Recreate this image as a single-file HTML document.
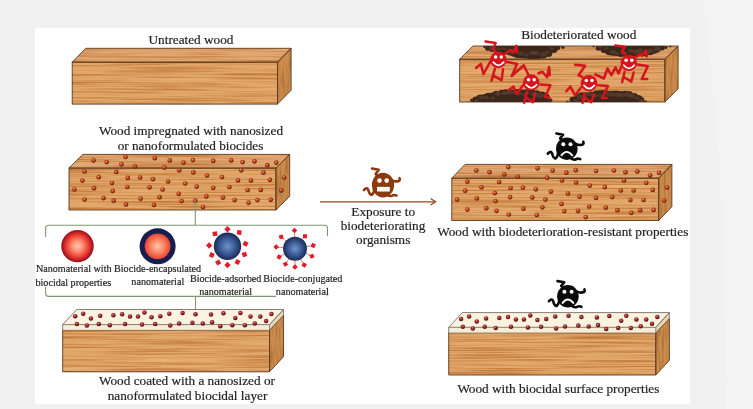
<!DOCTYPE html>
<html lang="en"><head><meta charset="utf-8"><title>Nanobiocides for wood protection</title>
<style>
html,body{margin:0;padding:0;background:#f1f1f1}
body{width:753px;height:409px;overflow:hidden}
svg{display:block}
text{opacity:0.99;stroke:#1d1d1d;stroke-width:0.2px;paint-order:stroke}
text{font-family:"Liberation Serif","Times New Roman",serif;fill:#1d1d1d}
.t{font-size:13.25px}
.s{font-size:10.15px}
</style></head><body>
<svg width="753" height="409" viewBox="0 0 753 409">
<defs>
<filter id="grainH" x="0" y="0" width="100%" height="100%" color-interpolation-filters="sRGB">
<feTurbulence type="fractalNoise" baseFrequency="0.009 0.62" numOctaves="3" seed="4" result="n"/>
<feColorMatrix in="n" type="matrix" values="0 0 0 0 0  0 0 0 0 0  0 0 0 0 0  2.2 0 0 0 -0.92" result="a"/>
<feFlood flood-color="#b96f30"/>
<feComposite operator="in" in2="a" result="g"/>
<feColorMatrix in="n" type="matrix" values="0 0 0 0 0  0 0 0 0 0  0 0 0 0 0  0 -2.0 0 0 0.85" result="b"/>
<feFlood flood-color="#f2c084"/>
<feComposite operator="in" in2="b" result="l"/>
<feMerge result="m"><feMergeNode in="l"/><feMergeNode in="g"/></feMerge>
<feComposite operator="in" in="m" in2="SourceGraphic" result="mm"/>
<feMerge><feMergeNode in="SourceGraphic"/><feMergeNode in="mm"/></feMerge>
</filter>
<filter id="grainV" x="0" y="0" width="100%" height="100%" color-interpolation-filters="sRGB">
<feTurbulence type="fractalNoise" baseFrequency="0.45 0.04" numOctaves="2" seed="9" result="n"/>
<feColorMatrix in="n" type="matrix" values="0 0 0 0 0  0 0 0 0 0  0 0 0 0 0  2.0 0 0 0 -0.85" result="a"/>
<feFlood flood-color="#a5642c"/>
<feComposite operator="in" in2="a" result="g"/>
<feComposite operator="in" in="g" in2="SourceGraphic" result="gg"/>
<feMerge><feMergeNode in="SourceGraphic"/><feMergeNode in="gg"/></feMerge>
</filter>
<filter id="soft" x="-5%" y="-20%" width="110%" height="140%"><feGaussianBlur stdDeviation="0.45"/></filter>
<filter id="rot" x="-20%" y="-60%" width="140%" height="220%">
<feTurbulence type="fractalNoise" baseFrequency="0.16" numOctaves="2" seed="3" result="n"/>
<feDisplacementMap in="SourceGraphic" in2="n" scale="5" xChannelSelector="R" yChannelSelector="G"/>
<feGaussianBlur stdDeviation="0.6"/>
</filter>
<radialGradient id="gRed" cx="0.5" cy="0.5" r="0.5"><stop offset="0" stop-color="#ffc6ae"/><stop offset="0.3" stop-color="#ff967c"/><stop offset="0.6" stop-color="#f2503e"/><stop offset="0.82" stop-color="#d0242a"/><stop offset="1" stop-color="#8a0c12"/></radialGradient>
<radialGradient id="gRedIn" cx="0.5" cy="0.5" r="0.5"><stop offset="0" stop-color="#ffc8ac"/><stop offset="0.45" stop-color="#fd8e6e"/><stop offset="1" stop-color="#e8432d"/></radialGradient>
<radialGradient id="gBlue" cx="0.5" cy="0.5" r="0.5"><stop offset="0" stop-color="#6f93c8"/><stop offset="0.55" stop-color="#3b5c98"/><stop offset="1" stop-color="#182a55"/></radialGradient>
<radialGradient id="gDot" cx="0.42" cy="0.38" r="0.62"><stop offset="0" stop-color="#f0a074"/><stop offset="0.4" stop-color="#c4471f"/><stop offset="0.8" stop-color="#7a260e"/><stop offset="1" stop-color="#5a1a0a"/></radialGradient>
<radialGradient id="gDot2" cx="0.42" cy="0.36" r="0.62"><stop offset="0" stop-color="#e09896"/><stop offset="0.4" stop-color="#a52a2e"/><stop offset="0.8" stop-color="#661619"/><stop offset="1" stop-color="#4a0e10"/></radialGradient>
<g id="d2">
<circle cx="93.5" cy="160.4" r="2.35" fill="url(#gDot)"/>
<circle cx="106.7" cy="162.1" r="2.35" fill="url(#gDot)"/>
<circle cx="125.5" cy="157" r="2.35" fill="url(#gDot)"/>
<circle cx="121.4" cy="164.3" r="2.35" fill="url(#gDot)"/>
<circle cx="135" cy="166.4" r="2.35" fill="url(#gDot)"/>
<circle cx="154.8" cy="158.2" r="2.35" fill="url(#gDot)"/>
<circle cx="84.5" cy="171.5" r="2.35" fill="url(#gDot)"/>
<circle cx="116.3" cy="171.9" r="2.35" fill="url(#gDot)"/>
<circle cx="82.4" cy="180.6" r="2.35" fill="url(#gDot)"/>
<circle cx="98.7" cy="177.2" r="2.35" fill="url(#gDot)"/>
<circle cx="112" cy="183" r="2.35" fill="url(#gDot)"/>
<circle cx="127.8" cy="177.9" r="2.35" fill="url(#gDot)"/>
<circle cx="140.1" cy="177.5" r="2.35" fill="url(#gDot)"/>
<circle cx="153" cy="179.2" r="2.35" fill="url(#gDot)"/>
<circle cx="74.3" cy="189.5" r="2.35" fill="url(#gDot)"/>
<circle cx="94" cy="188.2" r="2.35" fill="url(#gDot)"/>
<circle cx="112.7" cy="190.9" r="2.35" fill="url(#gDot)"/>
<circle cx="127.3" cy="187" r="2.35" fill="url(#gDot)"/>
<circle cx="149.5" cy="187.3" r="2.35" fill="url(#gDot)"/>
<circle cx="84.5" cy="199.5" r="2.35" fill="url(#gDot)"/>
<circle cx="103.5" cy="198.1" r="2.35" fill="url(#gDot)"/>
<circle cx="113.7" cy="200.7" r="2.35" fill="url(#gDot)"/>
<circle cx="126" cy="204.4" r="2.35" fill="url(#gDot)"/>
<circle cx="140.6" cy="198.6" r="2.35" fill="url(#gDot)"/>
<circle cx="154" cy="204.9" r="2.35" fill="url(#gDot)"/>
<circle cx="169.8" cy="160.4" r="2.35" fill="url(#gDot)"/>
<circle cx="183.5" cy="162.6" r="2.35" fill="url(#gDot)"/>
<circle cx="192.9" cy="160.1" r="2.35" fill="url(#gDot)"/>
<circle cx="213.2" cy="160.9" r="2.35" fill="url(#gDot)"/>
<circle cx="231.1" cy="160.4" r="2.35" fill="url(#gDot)"/>
<circle cx="242.6" cy="162.1" r="2.35" fill="url(#gDot)"/>
<circle cx="164.3" cy="167.6" r="2.35" fill="url(#gDot)"/>
<circle cx="179.2" cy="170.3" r="2.35" fill="url(#gDot)"/>
<circle cx="193.3" cy="172.4" r="2.35" fill="url(#gDot)"/>
<circle cx="241.2" cy="170.3" r="2.35" fill="url(#gDot)"/>
<circle cx="207" cy="175.5" r="2.35" fill="url(#gDot)"/>
<circle cx="222" cy="177" r="2.35" fill="url(#gDot)"/>
<circle cx="168.1" cy="181.5" r="2.35" fill="url(#gDot)"/>
<circle cx="185.2" cy="183.5" r="2.35" fill="url(#gDot)"/>
<circle cx="238" cy="180.4" r="2.35" fill="url(#gDot)"/>
<circle cx="162.6" cy="189.5" r="2.35" fill="url(#gDot)"/>
<circle cx="196.7" cy="186.6" r="2.35" fill="url(#gDot)"/>
<circle cx="213.2" cy="187.8" r="2.35" fill="url(#gDot)"/>
<circle cx="229.4" cy="187" r="2.35" fill="url(#gDot)"/>
<circle cx="178.7" cy="193.8" r="2.35" fill="url(#gDot)"/>
<circle cx="159.6" cy="197.2" r="2.35" fill="url(#gDot)"/>
<circle cx="206.3" cy="196.4" r="2.35" fill="url(#gDot)"/>
<circle cx="222.9" cy="197.6" r="2.35" fill="url(#gDot)"/>
<circle cx="234.6" cy="200.1" r="2.35" fill="url(#gDot)"/>
<circle cx="181.5" cy="201" r="2.35" fill="url(#gDot)"/>
<circle cx="195.2" cy="200.7" r="2.35" fill="url(#gDot)"/>
<circle cx="202.9" cy="207" r="2.35" fill="url(#gDot)"/>
<circle cx="254.5" cy="161.3" r="2.35" fill="url(#gDot)"/>
<circle cx="267.3" cy="165.2" r="2.35" fill="url(#gDot)"/>
<circle cx="276.2" cy="162.6" r="2.35" fill="url(#gDot)"/>
<circle cx="263.4" cy="172.7" r="2.35" fill="url(#gDot)"/>
<circle cx="250.9" cy="180.4" r="2.35" fill="url(#gDot)"/>
<circle cx="269.9" cy="179.8" r="2.35" fill="url(#gDot)"/>
<circle cx="247.6" cy="190" r="2.35" fill="url(#gDot)"/>
<circle cx="260.8" cy="189.9" r="2.35" fill="url(#gDot)"/>
<circle cx="248.5" cy="202.7" r="2.35" fill="url(#gDot)"/>
<circle cx="257.4" cy="200.1" r="2.35" fill="url(#gDot)"/>
<circle cx="270.7" cy="199.8" r="2.35" fill="url(#gDot)"/>
<circle cx="284.2" cy="177.5" r="2.35" fill="url(#gDot)"/>
<circle cx="281.3" cy="190.4" r="2.35" fill="url(#gDot)"/>
</g><g id="d3">
<circle cx="75.2" cy="316.2" r="2.25" fill="url(#gDot2)"/>
<circle cx="83.2" cy="313.7" r="2.25" fill="url(#gDot2)"/>
<circle cx="90.9" cy="318.6" r="2.25" fill="url(#gDot2)"/>
<circle cx="100.2" cy="315.7" r="2.25" fill="url(#gDot2)"/>
<circle cx="113.4" cy="315.3" r="2.25" fill="url(#gDot2)"/>
<circle cx="122.1" cy="314.3" r="2.25" fill="url(#gDot2)"/>
<circle cx="130" cy="316.6" r="2.25" fill="url(#gDot2)"/>
<circle cx="138" cy="316.6" r="2.25" fill="url(#gDot2)"/>
<circle cx="144.4" cy="312.6" r="2.25" fill="url(#gDot2)"/>
<circle cx="151.5" cy="317.3" r="2.25" fill="url(#gDot2)"/>
<circle cx="76.9" cy="323.9" r="2.25" fill="url(#gDot2)"/>
<circle cx="86.9" cy="325.6" r="2.25" fill="url(#gDot2)"/>
<circle cx="98.8" cy="323.9" r="2.25" fill="url(#gDot2)"/>
<circle cx="109.8" cy="325.2" r="2.25" fill="url(#gDot2)"/>
<circle cx="125.1" cy="323.9" r="2.25" fill="url(#gDot2)"/>
<circle cx="142" cy="324.6" r="2.25" fill="url(#gDot2)"/>
<circle cx="155.2" cy="323.9" r="2.25" fill="url(#gDot2)"/>
<circle cx="160.3" cy="316.2" r="2.25" fill="url(#gDot2)"/>
<circle cx="169.3" cy="313.7" r="2.25" fill="url(#gDot2)"/>
<circle cx="182.6" cy="312.9" r="2.25" fill="url(#gDot2)"/>
<circle cx="195.5" cy="314.3" r="2.25" fill="url(#gDot2)"/>
<circle cx="211" cy="314.6" r="2.25" fill="url(#gDot2)"/>
<circle cx="223.4" cy="313.3" r="2.25" fill="url(#gDot2)"/>
<circle cx="235.3" cy="317.9" r="2.25" fill="url(#gDot2)"/>
<circle cx="240.4" cy="313" r="2.25" fill="url(#gDot2)"/>
<circle cx="170.2" cy="325.6" r="2.25" fill="url(#gDot2)"/>
<circle cx="179.1" cy="323.6" r="2.25" fill="url(#gDot2)"/>
<circle cx="192.4" cy="322.8" r="2.25" fill="url(#gDot2)"/>
<circle cx="202.8" cy="323.6" r="2.25" fill="url(#gDot2)"/>
<circle cx="212.1" cy="322.3" r="2.25" fill="url(#gDot2)"/>
<circle cx="220.3" cy="326.3" r="2.25" fill="url(#gDot2)"/>
<circle cx="232.3" cy="325.2" r="2.25" fill="url(#gDot2)"/>
<circle cx="244.9" cy="325.2" r="2.25" fill="url(#gDot2)"/>
<circle cx="250.5" cy="316.6" r="2.25" fill="url(#gDot2)"/>
<circle cx="260.3" cy="316.6" r="2.25" fill="url(#gDot2)"/>
<circle cx="271.4" cy="314.1" r="2.25" fill="url(#gDot2)"/>
<circle cx="266.1" cy="320.9" r="2.25" fill="url(#gDot2)"/>
<circle cx="254.8" cy="323.5" r="2.25" fill="url(#gDot2)"/>
</g>
</defs>
<rect width="753" height="409" fill="#f1f1f1"/>
<path d="M703 0 L753 0 L753 409 L726 409 Q728 200 703 0 Z" fill="#f3f3f3"/>
<rect x="35" y="28" width="655" height="376" fill="#ffffff"/>

<text x="191" y="43.5" text-anchor="middle" class="t">Untreated wood</text>
<path d="M72.2 62.2 L85.8 48.300000000000004 L291.1 48.300000000000004 L277.5 62.2 Z" fill="#e0a672" filter="url(#grainH)"/>
<rect x="72.2" y="62.2" width="205.3" height="41.9" fill="#e2a86b" filter="url(#grainH)"/>
<path d="M277.5 62.2 L291.1 48.300000000000004 L291.1 90.19999999999999 L277.5 104.1 Z" fill="#cb8d4e" filter="url(#grainV)"/>
<path d="M72.2 62.2 L85.8 48.300000000000004 L291.1 48.300000000000004 L277.5 62.2 Z" fill="none" stroke="#5f3a1e" stroke-width="0.9" stroke-linejoin="round"/>
<rect x="72.2" y="62.2" width="205.3" height="41.9" fill="none" stroke="#5f3a1e" stroke-width="0.9"/>
<path d="M277.5 62.2 L291.1 48.300000000000004 L291.1 90.19999999999999 L277.5 104.1 Z" fill="none" stroke="#5f3a1e" stroke-width="0.9" stroke-linejoin="round"/>
<text x="191" y="135" text-anchor="middle" class="t">Wood impregnated with nanosized</text>
<text x="190.5" y="149.8" text-anchor="middle" class="t">or nanoformulated biocides</text>
<path d="M69 168.1 L82.8 154.4 L289.7 154.4 L275.9 168.1 Z" fill="#e0a672" filter="url(#grainH)"/>
<rect x="69" y="168.1" width="206.9" height="41.9" fill="#e2a86b" filter="url(#grainH)"/>
<path d="M275.9 168.1 L289.7 154.4 L289.7 196.3 L275.9 210 Z" fill="#cb8d4e" filter="url(#grainV)"/>
<path d="M69 168.1 L82.8 154.4 L289.7 154.4 L275.9 168.1 Z" fill="none" stroke="#5f3a1e" stroke-width="0.9" stroke-linejoin="round"/>
<rect x="69" y="168.1" width="206.9" height="41.9" fill="none" stroke="#5f3a1e" stroke-width="0.9"/>
<path d="M275.9 168.1 L289.7 154.4 L289.7 196.3 L275.9 210 Z" fill="none" stroke="#5f3a1e" stroke-width="0.9" stroke-linejoin="round"/>
<use href="#d2"/>
<path d="M195.3 201 V225.2 M45.6 237 V228.2 Q45.6 225.2 48.6 225.2 H324.5 Q327.5 225.2 327.5 228.2 V236" fill="none" stroke="#7f9873" stroke-width="1.1"/>
<path d="M45.6 287 V293.4 Q45.6 296.4 48.6 296.4 H324.5 Q327.5 296.4 327.5 293.4 V287.5 M195.5 296.4 V314" fill="none" stroke="#7f9873" stroke-width="1.1"/>
<circle cx="77.5" cy="246.1" r="16.2" fill="url(#gRed)"/>
<circle cx="157.6" cy="246.3" r="18" fill="#171d4d"/><circle cx="157.6" cy="246.3" r="12.9" fill="url(#gRedIn)" filter="url(#soft)"/>
<rect x="225.25" y="226.95" width="4.5" height="4.5" fill="#e21c28" transform="rotate(-45 227.5 229.2)"/>
<rect x="237.00" y="230.25" width="4.5" height="4.5" fill="#e21c28" transform="rotate(7 239.2 232.5)"/>
<rect x="243.25" y="241.50" width="4.5" height="4.5" fill="#e21c28" transform="rotate(27 245.5 243.8)"/>
<rect x="242.25" y="252.25" width="4.5" height="4.5" fill="#e21c28" transform="rotate(71 244.5 254.5)"/>
<rect x="235.25" y="259.75" width="4.5" height="4.5" fill="#e21c28" transform="rotate(118 237.5 262.0)"/>
<rect x="225.25" y="262.75" width="4.5" height="4.5" fill="#e21c28" transform="rotate(135 227.5 265.0)"/>
<rect x="216.00" y="260.25" width="4.5" height="4.5" fill="#e21c28" transform="rotate(153 218.2 262.5)"/>
<rect x="209.50" y="252.75" width="4.5" height="4.5" fill="#e21c28" transform="rotate(204 211.8 255.0)"/>
<rect x="207.00" y="243.25" width="4.5" height="4.5" fill="#e21c28" transform="rotate(-132 209.2 245.5)"/>
<rect x="212.75" y="231.50" width="4.5" height="4.5" fill="#e21c28" transform="rotate(-98 215.0 233.8)"/>
<circle cx="227.5" cy="246.3" r="13.7" fill="url(#gBlue)"/>
<path d="M294.5 230.5 L294.7 237.7" stroke="#e4404a" stroke-width="0.7"/>
<rect x="292.50" y="228.50" width="4.0" height="4.0" fill="#e21c28" transform="rotate(-47 294.5 230.5)"/>
<path d="M305.0 236.2 L301.9 240.1" stroke="#e4404a" stroke-width="0.7"/>
<rect x="303.00" y="234.25" width="4.0" height="4.0" fill="#e21c28" transform="rotate(6 305.0 236.2)"/>
<path d="M313.2 245.5 L305.8 246.8" stroke="#e4404a" stroke-width="0.7"/>
<rect x="311.25" y="243.50" width="4.0" height="4.0" fill="#e21c28" transform="rotate(25 313.2 245.5)"/>
<path d="M312.0 256.2 L305.1 253.2" stroke="#e4404a" stroke-width="0.7"/>
<rect x="310.00" y="254.25" width="4.0" height="4.0" fill="#e21c28" transform="rotate(69 312.0 256.2)"/>
<path d="M304.2 265.0 L300.4 258.3" stroke="#e4404a" stroke-width="0.7"/>
<rect x="302.25" y="263.00" width="4.0" height="4.0" fill="#e21c28" transform="rotate(120 304.2 265.0)"/>
<path d="M295.0 267.0 L295.0 259.7" stroke="#e4404a" stroke-width="0.7"/>
<rect x="293.00" y="265.00" width="4.0" height="4.0" fill="#e21c28" transform="rotate(135 295.0 267.0)"/>
<path d="M285.5 264.2 L289.3 258.1" stroke="#e4404a" stroke-width="0.7"/>
<rect x="283.50" y="262.25" width="4.0" height="4.0" fill="#e21c28" transform="rotate(154 285.5 264.2)"/>
<path d="M279.2 257.0 L285.3 253.8" stroke="#e4404a" stroke-width="0.7"/>
<rect x="277.25" y="255.00" width="4.0" height="4.0" fill="#e21c28" transform="rotate(205 279.2 257.0)"/>
<path d="M276.2 247.0 L284.0 247.7" stroke="#e4404a" stroke-width="0.7"/>
<rect x="274.25" y="245.00" width="4.0" height="4.0" fill="#e21c28" transform="rotate(-130 276.2 247.0)"/>
<path d="M281.2 237.0 L286.6 241.6" stroke="#e4404a" stroke-width="0.7"/>
<rect x="279.25" y="235.00" width="4.0" height="4.0" fill="#e21c28" transform="rotate(-103 281.2 237.0)"/>
<circle cx="295" cy="248.7" r="12" fill="url(#gBlue)"/>
<text x="73.7" y="272" text-anchor="middle" class="s">Nanomaterial with</text>
<text x="73.3" y="285.5" text-anchor="middle" class="s">biocidal properties</text>
<text x="157.6" y="272" text-anchor="middle" class="s">Biocide-encapsulated</text>
<text x="157.8" y="285.3" text-anchor="middle" class="s">nanomaterial</text>
<text x="225.6" y="281.8" text-anchor="middle" class="s">Biocide-adsorbed</text>
<text x="225.6" y="295.2" text-anchor="middle" class="s">nanomaterial</text>
<text x="302.8" y="281.8" text-anchor="middle" class="s">Biocide-conjugated</text>
<rect x="276" y="287" width="50.6" height="10.4" fill="#fff"/>
<text x="302.3" y="295.2" text-anchor="middle" class="s">nanomaterial</text>
<path d="M62.7 324.6 L76.7 309.5 L283.5 309.5 L269.5 324.6 Z" fill="#fbf2df"/>
<rect x="62.7" y="324.6" width="206.8" height="5.8" fill="#f7ecd6"/>
<rect x="62.7" y="330.40000000000003" width="206.8" height="41.4" fill="#e2a86b" filter="url(#grainH)"/>
<path d="M269.5 330.40000000000003 L283.5 315.3 L283.5 356.7 L269.5 371.8 Z" fill="#cb8d4e" filter="url(#grainV)"/>
<path d="M269.5 324.6 L283.5 309.5 L283.5 315.3 L269.5 330.40000000000003 Z" fill="#ead6b2"/>
<path d="M62.7 324.6 L76.7 309.5 L283.5 309.5 L269.5 324.6 Z" fill="none" stroke="#77706a" stroke-width="0.9" stroke-linejoin="round"/>
<path d="M62.7 324.6 V330.40000000000003" fill="none" stroke="#77706a" stroke-width="0.9"/>
<path d="M62.7 330.40000000000003 V371.8 H269.5 V330.40000000000003" fill="none" stroke="#5f3a1e" stroke-width="0.9"/>
<path d="M62.7 330.40000000000003 H269.5" fill="none" stroke="#7b5a3c" stroke-width="0.8"/>
<path d="M269.5 330.40000000000003 L283.5 315.3 L283.5 356.7 L269.5 371.8 Z" fill="none" stroke="#5f3a1e" stroke-width="0.9" stroke-linejoin="round"/>
<path d="M269.5 324.6 L283.5 309.5 L283.5 315.3 L269.5 330.40000000000003 Z" fill="none" stroke="#77706a" stroke-width="0.8" stroke-linejoin="round"/>
<use href="#d3"/>
<text x="187" y="385.2" text-anchor="middle" class="t">Wood coated with a nanosized or</text>
<text x="187.5" y="399.6" text-anchor="middle" class="t">nanoformulated biocidal layer</text>
<path d="M320 201.8 H435" stroke="#93441a" stroke-width="1.2" fill="none"/><path d="M430.6 198.5 L435.6 201.8 L430.6 205.1" stroke="#93441a" stroke-width="1.2" fill="none" stroke-linejoin="miter"/>
<g transform="translate(383 185.1)" stroke="#8a3a0c" stroke-width="2.6" fill="none" stroke-linecap="round" stroke-linejoin="round">
<path d="M-11 -16.6 L-4.3 -15.3 L-7.3 -11.1 L-5.5 -9.2"/>
<path d="M9.2 -4.8 Q12.2 -3 15.9 -4.2 Q17.2 -5 16.5 -6.9"/>
<path d="M-8.6 4.3 Q-9.5 9 -11.6 9.8 Q-13.5 9 -14.1 6.8 Q-15 3 -16.5 3.2 Q-18 3.6 -19 4.9"/>
<path d="M4.3 9.8 Q7 11.6 9 10.6 Q11 9.4 13.5 10.4"/>
<ellipse cx="0" cy="0" rx="11.1" ry="12.4" fill="#8a3a0c" stroke="none"/>
<circle cx="-3.5" cy="-4.5" r="2.3" fill="#fff" stroke="none"/><circle cx="3.7" cy="-4.5" r="2.3" fill="#fff" stroke="none"/>
<rect x="-6" y="1.8" width="12.8" height="4.6" fill="#fff" stroke="none"/><path d="M-2.8 1.8 V6.4 M0.4 1.8 V6.4 M3.6 1.8 V6.4" stroke="#ecd9cb" stroke-width="0.5"/>
</g>
<text x="383.2" y="215.6" text-anchor="middle" class="t">Exposure to</text>
<text x="383" y="230" text-anchor="middle" class="t">biodeteriorating</text>
<text x="383.2" y="244.2" text-anchor="middle" class="t">organisms</text>
<text x="578.8" y="39.4" text-anchor="middle" class="t">Biodeteriorated wood</text>
<path d="M459.7 59.2 L472.9 46.0 L678.1 46.0 L664.9 59.2 Z" fill="#e0a672" filter="url(#grainH)"/>
<rect x="459.7" y="59.2" width="205.2" height="42.8" fill="#e2a86b" filter="url(#grainH)"/>
<path d="M664.9 59.2 L678.1 46.0 L678.1 88.8 L664.9 102 Z" fill="#cb8d4e" filter="url(#grainV)"/>
<path d="M459.7 59.2 L472.9 46.0 L678.1 46.0 L664.9 59.2 Z" fill="none" stroke="#5f3a1e" stroke-width="0.9" stroke-linejoin="round"/>
<rect x="459.7" y="59.2" width="205.2" height="42.8" fill="none" stroke="#5f3a1e" stroke-width="0.9"/>
<path d="M664.9 59.2 L678.1 46.0 L678.1 88.8 L664.9 102 Z" fill="none" stroke="#5f3a1e" stroke-width="0.9" stroke-linejoin="round"/>
<clipPath id="c4"><path d="M459.7 102 V59.2 L472.9 46.0 H678.1 V88.8 L664.9 102 Z"/></clipPath>
<g clip-path="url(#c4)" filter="url(#soft)">
<path d="M483 46 L483.0 43.4 L484.5 44.9 L486.0 46.4 L487.5 47.6 L489.0 48.0 L490.5 48.5 L492.0 49.0 L493.5 49.4 L495.0 49.9 L496.5 50.1 L498.0 50.3 L499.5 50.5 L501.0 50.6 L502.5 50.8 L504.0 51.0 L505.5 51.2 L507.0 51.4 L508.5 52.0 L510.0 52.5 L511.5 53.1 L513.0 53.6 L514.5 54.2 L516.0 54.6 L517.5 54.8 L519.0 55.1 L520.5 55.3 L522.0 55.6 L523.5 55.8 L525.0 55.9 L526.5 55.9 L528.0 55.9 L529.5 55.9 L531.0 55.9 L532.5 55.9 L534.0 55.9 L535.5 55.9 L537.0 55.9 L538.5 55.8 L540.0 55.6 L541.5 55.4 L543.0 55.1 L544.5 54.9 L546.0 54.7 L547.5 54.5 L549.0 53.6 L550.5 52.4 L552.0 51.2 L553.5 50.0 L555.0 48.9 L556.5 47.8 L558.0 47.2 L559.5 46.9 L561.0 46.6 L562.5 46.2 L564.0 45.6 L565.5 45.0 L567.0 44.4 L567 46 Z" fill="#3b271c"/>
<ellipse cx="484.5" cy="46.8" rx="1.4" ry="1.2" fill="#3b271c"/>
<ellipse cx="487.9" cy="48.4" rx="2.8" ry="2.3" fill="#3b271c"/>
<ellipse cx="492.8" cy="48.8" rx="3.8" ry="3.2" fill="#3b271c"/>
<ellipse cx="497.4" cy="49.5" rx="4.4" ry="3.7" fill="#3b271c"/>
<ellipse cx="501.0" cy="50.1" rx="4.1" ry="3.4" fill="#3b271c"/>
<ellipse cx="505.8" cy="50.3" rx="5.2" ry="4.3" fill="#3b271c"/>
<ellipse cx="510.3" cy="52.0" rx="4.1" ry="3.4" fill="#3b271c"/>
<ellipse cx="513.6" cy="54.1" rx="3.2" ry="2.6" fill="#3b271c"/>
<ellipse cx="517.6" cy="54.8" rx="3.9" ry="3.3" fill="#3b271c"/>
<ellipse cx="522.0" cy="54.7" rx="4.3" ry="3.6" fill="#3b271c"/>
<ellipse cx="525.3" cy="55.3" rx="3.8" ry="3.2" fill="#3b271c"/>
<ellipse cx="529.7" cy="54.7" rx="5.3" ry="4.4" fill="#3b271c"/>
<ellipse cx="533.3" cy="54.9" rx="5.1" ry="4.2" fill="#3b271c"/>
<ellipse cx="538.2" cy="54.9" rx="5.1" ry="4.2" fill="#3b271c"/>
<ellipse cx="543.3" cy="55.2" rx="3.9" ry="3.2" fill="#3b271c"/>
<ellipse cx="548.7" cy="54.1" rx="3.5" ry="2.9" fill="#3b271c"/>
<ellipse cx="553.5" cy="49.5" rx="4.1" ry="3.4" fill="#3b271c"/>
<ellipse cx="557.9" cy="47.9" rx="2.5" ry="2.1" fill="#3b271c"/>
<ellipse cx="563.0" cy="47.6" rx="1.7" ry="1.4" fill="#3b271c"/>
<ellipse cx="492.4" cy="47.9" rx="3.5" ry="2.3" fill="#5e4230" opacity="0.7"/>
<ellipse cx="498.6" cy="48.8" rx="2.3" ry="1.5" fill="#5e4230" opacity="0.7"/>
<ellipse cx="503.5" cy="48.6" rx="2.2" ry="1.5" fill="#5e4230" opacity="0.7"/>
<ellipse cx="510.3" cy="51.8" rx="3.5" ry="2.3" fill="#5e4230" opacity="0.7"/>
<ellipse cx="515.2" cy="51.2" rx="3.1" ry="2.1" fill="#5e4230" opacity="0.7"/>
<ellipse cx="520.7" cy="53.6" rx="3.0" ry="2.0" fill="#5e4230" opacity="0.7"/>
<ellipse cx="526.5" cy="54.9" rx="2.3" ry="1.5" fill="#5e4230" opacity="0.7"/>
<ellipse cx="532.0" cy="52.7" rx="3.0" ry="2.0" fill="#5e4230" opacity="0.7"/>
<ellipse cx="536.2" cy="53.1" rx="3.1" ry="2.1" fill="#5e4230" opacity="0.7"/>
<ellipse cx="542.9" cy="54.6" rx="3.2" ry="2.1" fill="#5e4230" opacity="0.7"/>
<ellipse cx="547.1" cy="52.3" rx="2.4" ry="1.6" fill="#5e4230" opacity="0.7"/>
<ellipse cx="551.8" cy="48.4" rx="2.1" ry="1.4" fill="#5e4230" opacity="0.7"/>
<path d="M592 46 L592.0 43.4 L593.5 44.4 L595.0 45.4 L596.5 46.4 L598.0 47.4 L599.5 48.1 L601.0 48.7 L602.5 49.4 L604.0 50.0 L605.5 50.7 L607.0 51.2 L608.5 51.7 L610.0 52.1 L611.5 52.6 L613.0 53.1 L614.5 53.4 L616.0 53.5 L617.5 53.5 L619.0 53.6 L620.5 53.6 L622.0 53.6 L623.5 53.7 L625.0 53.7 L626.5 53.8 L628.0 53.8 L629.5 53.9 L631.0 53.8 L632.5 53.7 L634.0 53.6 L635.5 53.5 L637.0 53.4 L638.5 53.3 L640.0 53.2 L641.5 53.1 L643.0 53.0 L644.5 52.9 L646.0 52.7 L647.5 52.4 L649.0 52.1 L650.5 51.8 L652.0 51.5 L653.5 51.2 L655.0 50.9 L656.5 50.1 L658.0 49.4 L659.5 48.6 L661.0 47.9 L662.5 47.2 L664.0 46.7 L665.5 46.2 L667.0 45.6 L668.5 45.1 L670.0 44.6 L671.5 44.1 L672 46 Z" fill="#3b271c"/>
<ellipse cx="593.5" cy="46.1" rx="1.4" ry="1.2" fill="#3b271c"/>
<ellipse cx="598.5" cy="48.3" rx="2.8" ry="2.3" fill="#3b271c"/>
<ellipse cx="603.9" cy="50.2" rx="3.2" ry="2.7" fill="#3b271c"/>
<ellipse cx="609.3" cy="51.5" rx="4.5" ry="3.8" fill="#3b271c"/>
<ellipse cx="612.8" cy="52.3" rx="4.1" ry="3.4" fill="#3b271c"/>
<ellipse cx="617.2" cy="52.4" rx="4.4" ry="3.6" fill="#3b271c"/>
<ellipse cx="620.9" cy="53.8" rx="3.7" ry="3.1" fill="#3b271c"/>
<ellipse cx="625.9" cy="54.0" rx="3.5" ry="2.9" fill="#3b271c"/>
<ellipse cx="629.5" cy="52.8" rx="4.5" ry="3.7" fill="#3b271c"/>
<ellipse cx="632.7" cy="52.3" rx="5.0" ry="4.2" fill="#3b271c"/>
<ellipse cx="636.4" cy="52.4" rx="5.2" ry="4.4" fill="#3b271c"/>
<ellipse cx="640.3" cy="51.9" rx="5.2" ry="4.3" fill="#3b271c"/>
<ellipse cx="645.1" cy="53.2" rx="3.6" ry="3.0" fill="#3b271c"/>
<ellipse cx="649.9" cy="50.9" rx="5.2" ry="4.3" fill="#3b271c"/>
<ellipse cx="653.8" cy="50.5" rx="3.9" ry="3.3" fill="#3b271c"/>
<ellipse cx="657.3" cy="49.7" rx="3.3" ry="2.7" fill="#3b271c"/>
<ellipse cx="662.0" cy="48.2" rx="2.7" ry="2.2" fill="#3b271c"/>
<ellipse cx="665.9" cy="47.6" rx="1.7" ry="1.4" fill="#3b271c"/>
<ellipse cx="670.3" cy="46.0" rx="1.4" ry="1.2" fill="#3b271c"/>
<ellipse cx="600.2" cy="47.0" rx="2.0" ry="1.3" fill="#5e4230" opacity="0.7"/>
<ellipse cx="606.4" cy="48.2" rx="2.0" ry="1.3" fill="#5e4230" opacity="0.7"/>
<ellipse cx="612.8" cy="51.8" rx="2.9" ry="1.9" fill="#5e4230" opacity="0.7"/>
<ellipse cx="616.8" cy="53.4" rx="2.2" ry="1.5" fill="#5e4230" opacity="0.7"/>
<ellipse cx="623.7" cy="53.1" rx="3.2" ry="2.1" fill="#5e4230" opacity="0.7"/>
<ellipse cx="630.5" cy="50.7" rx="2.5" ry="1.7" fill="#5e4230" opacity="0.7"/>
<ellipse cx="635.5" cy="51.8" rx="3.2" ry="2.2" fill="#5e4230" opacity="0.7"/>
<ellipse cx="639.9" cy="50.7" rx="3.3" ry="2.2" fill="#5e4230" opacity="0.7"/>
<ellipse cx="646.4" cy="52.6" rx="3.5" ry="2.3" fill="#5e4230" opacity="0.7"/>
<ellipse cx="650.7" cy="50.7" rx="3.0" ry="2.0" fill="#5e4230" opacity="0.7"/>
<ellipse cx="657.5" cy="48.8" rx="3.5" ry="2.3" fill="#5e4230" opacity="0.7"/>
<path d="M467 102 L467.0 104.6 L468.5 103.7 L470.0 102.8 L471.5 102.0 L473.0 101.1 L474.5 100.3 L476.0 99.6 L477.5 98.8 L479.0 98.1 L480.5 97.5 L482.0 97.2 L483.5 96.9 L485.0 96.6 L486.5 96.3 L488.0 96.0 L489.5 95.7 L491.0 95.3 L492.5 94.8 L494.0 94.4 L495.5 93.9 L497.0 93.5 L498.5 93.0 L500.0 92.6 L501.5 92.5 L503.0 92.5 L504.5 92.4 L506.0 92.4 L507.5 92.3 L509.0 92.3 L510.5 92.2 L512.0 92.2 L513.5 92.1 L515.0 92.1 L516.5 92.1 L518.0 92.2 L519.5 92.2 L521.0 92.3 L522.5 92.3 L524.0 92.4 L525.5 92.4 L527.0 92.5 L528.5 92.5 L530.0 92.6 L531.5 92.7 L533.0 92.8 L534.5 92.8 L536.0 92.9 L537.5 93.0 L539.0 93.0 L540.5 93.4 L542.0 94.4 L543.5 95.3 L545.0 96.3 L546.5 97.3 L548.0 98.8 L549.5 100.5 L551.0 102.3 L552.5 104.0 L553 102 Z" fill="#3b271c"/>
<ellipse cx="468.5" cy="102.6" rx="1.4" ry="1.2" fill="#3b271c"/>
<ellipse cx="472.0" cy="100.2" rx="1.9" ry="1.6" fill="#3b271c"/>
<ellipse cx="475.8" cy="99.3" rx="3.2" ry="2.7" fill="#3b271c"/>
<ellipse cx="480.5" cy="97.9" rx="4.1" ry="3.4" fill="#3b271c"/>
<ellipse cx="484.9" cy="96.9" rx="3.5" ry="2.9" fill="#3b271c"/>
<ellipse cx="488.3" cy="95.7" rx="3.6" ry="3.0" fill="#3b271c"/>
<ellipse cx="492.1" cy="95.7" rx="4.0" ry="3.3" fill="#3b271c"/>
<ellipse cx="496.2" cy="93.5" rx="3.4" ry="2.8" fill="#3b271c"/>
<ellipse cx="501.7" cy="92.5" rx="3.3" ry="2.7" fill="#3b271c"/>
<ellipse cx="505.8" cy="93.1" rx="4.5" ry="3.8" fill="#3b271c"/>
<ellipse cx="510.6" cy="92.9" rx="4.2" ry="3.5" fill="#3b271c"/>
<ellipse cx="515.9" cy="92.5" rx="4.4" ry="3.6" fill="#3b271c"/>
<ellipse cx="519.3" cy="93.5" rx="5.2" ry="4.3" fill="#3b271c"/>
<ellipse cx="522.9" cy="93.7" rx="5.2" ry="4.3" fill="#3b271c"/>
<ellipse cx="527.8" cy="93.5" rx="5.0" ry="4.2" fill="#3b271c"/>
<ellipse cx="531.9" cy="93.6" rx="5.0" ry="4.2" fill="#3b271c"/>
<ellipse cx="536.8" cy="93.0" rx="3.3" ry="2.8" fill="#3b271c"/>
<ellipse cx="541.7" cy="95.7" rx="5.2" ry="4.3" fill="#3b271c"/>
<ellipse cx="546.1" cy="96.8" rx="3.5" ry="3.0" fill="#3b271c"/>
<ellipse cx="550.5" cy="100.2" rx="1.9" ry="1.6" fill="#3b271c"/>
<ellipse cx="476.5" cy="100.5" rx="2.3" ry="1.5" fill="#5e4230" opacity="0.7"/>
<ellipse cx="481.3" cy="97.3" rx="2.5" ry="1.7" fill="#5e4230" opacity="0.7"/>
<ellipse cx="486.1" cy="97.8" rx="2.6" ry="1.7" fill="#5e4230" opacity="0.7"/>
<ellipse cx="492.6" cy="97.9" rx="2.2" ry="1.5" fill="#5e4230" opacity="0.7"/>
<ellipse cx="497.7" cy="93.8" rx="3.0" ry="2.0" fill="#5e4230" opacity="0.7"/>
<ellipse cx="504.7" cy="93.1" rx="3.2" ry="2.1" fill="#5e4230" opacity="0.7"/>
<ellipse cx="509.6" cy="92.2" rx="3.2" ry="2.1" fill="#5e4230" opacity="0.7"/>
<ellipse cx="514.6" cy="92.6" rx="2.7" ry="1.8" fill="#5e4230" opacity="0.7"/>
<ellipse cx="519.3" cy="93.6" rx="2.7" ry="1.8" fill="#5e4230" opacity="0.7"/>
<ellipse cx="524.5" cy="94.4" rx="2.4" ry="1.6" fill="#5e4230" opacity="0.7"/>
<ellipse cx="528.8" cy="92.8" rx="2.1" ry="1.4" fill="#5e4230" opacity="0.7"/>
<ellipse cx="534.4" cy="94.0" rx="3.3" ry="2.2" fill="#5e4230" opacity="0.7"/>
<ellipse cx="539.9" cy="95.5" rx="3.6" ry="2.4" fill="#5e4230" opacity="0.7"/>
<ellipse cx="544.1" cy="95.7" rx="2.2" ry="1.5" fill="#5e4230" opacity="0.7"/>
<path d="M566 102 L566.0 104.6 L567.5 103.4 L569.0 102.2 L570.5 101.0 L572.0 100.0 L573.5 99.2 L575.0 98.3 L576.5 97.5 L578.0 96.7 L579.5 96.0 L581.0 95.7 L582.5 95.5 L584.0 95.2 L585.5 94.9 L587.0 94.6 L588.5 94.4 L590.0 94.1 L591.5 93.9 L593.0 93.8 L594.5 93.6 L596.0 93.5 L597.5 93.3 L599.0 93.2 L600.5 93.1 L602.0 93.2 L603.5 93.2 L605.0 93.3 L606.5 93.3 L608.0 93.4 L609.5 93.4 L611.0 93.5 L612.5 93.5 L614.0 93.6 L615.5 93.6 L617.0 93.7 L618.5 93.7 L620.0 93.8 L621.5 93.8 L623.0 93.9 L624.5 94.0 L626.0 94.0 L627.5 94.1 L629.0 94.3 L630.5 94.7 L632.0 95.1 L633.5 95.5 L635.0 96.2 L636.5 97.0 L638.0 97.9 L639.5 98.7 L641.0 99.6 L642.5 100.8 L644.0 102.1 L645.5 103.3 L647.0 104.6 L647 102 Z" fill="#3b271c"/>
<ellipse cx="567.5" cy="101.9" rx="1.4" ry="1.2" fill="#3b271c"/>
<ellipse cx="572.8" cy="99.5" rx="3.3" ry="2.8" fill="#3b271c"/>
<ellipse cx="577.4" cy="97.0" rx="3.5" ry="2.9" fill="#3b271c"/>
<ellipse cx="582.1" cy="96.2" rx="4.8" ry="4.0" fill="#3b271c"/>
<ellipse cx="586.0" cy="95.0" rx="3.3" ry="2.8" fill="#3b271c"/>
<ellipse cx="590.8" cy="94.2" rx="3.2" ry="2.7" fill="#3b271c"/>
<ellipse cx="596.3" cy="94.4" rx="4.5" ry="3.8" fill="#3b271c"/>
<ellipse cx="599.8" cy="92.9" rx="3.2" ry="2.6" fill="#3b271c"/>
<ellipse cx="603.2" cy="93.0" rx="3.5" ry="2.9" fill="#3b271c"/>
<ellipse cx="606.5" cy="93.8" rx="4.1" ry="3.4" fill="#3b271c"/>
<ellipse cx="611.6" cy="94.2" rx="4.2" ry="3.5" fill="#3b271c"/>
<ellipse cx="616.0" cy="94.4" rx="4.6" ry="3.8" fill="#3b271c"/>
<ellipse cx="619.9" cy="95.5" rx="5.3" ry="4.4" fill="#3b271c"/>
<ellipse cx="625.0" cy="94.7" rx="4.6" ry="3.9" fill="#3b271c"/>
<ellipse cx="628.8" cy="94.2" rx="3.7" ry="3.1" fill="#3b271c"/>
<ellipse cx="633.8" cy="96.2" rx="4.0" ry="3.3" fill="#3b271c"/>
<ellipse cx="637.9" cy="98.8" rx="4.5" ry="3.7" fill="#3b271c"/>
<ellipse cx="641.1" cy="99.8" rx="3.3" ry="2.7" fill="#3b271c"/>
<ellipse cx="645.4" cy="101.7" rx="1.4" ry="1.2" fill="#3b271c"/>
<ellipse cx="575.9" cy="100.3" rx="2.4" ry="1.6" fill="#5e4230" opacity="0.7"/>
<ellipse cx="580.1" cy="97.0" rx="3.5" ry="2.4" fill="#5e4230" opacity="0.7"/>
<ellipse cx="586.4" cy="95.1" rx="2.4" ry="1.6" fill="#5e4230" opacity="0.7"/>
<ellipse cx="590.7" cy="94.1" rx="3.3" ry="2.2" fill="#5e4230" opacity="0.7"/>
<ellipse cx="595.3" cy="95.4" rx="2.7" ry="1.8" fill="#5e4230" opacity="0.7"/>
<ellipse cx="599.8" cy="95.6" rx="2.2" ry="1.4" fill="#5e4230" opacity="0.7"/>
<ellipse cx="605.8" cy="93.6" rx="2.6" ry="1.8" fill="#5e4230" opacity="0.7"/>
<ellipse cx="610.4" cy="94.3" rx="3.6" ry="2.4" fill="#5e4230" opacity="0.7"/>
<ellipse cx="616.8" cy="94.6" rx="3.4" ry="2.3" fill="#5e4230" opacity="0.7"/>
<ellipse cx="621.4" cy="95.1" rx="3.4" ry="2.2" fill="#5e4230" opacity="0.7"/>
<ellipse cx="627.4" cy="94.3" rx="3.6" ry="2.4" fill="#5e4230" opacity="0.7"/>
<ellipse cx="632.0" cy="95.9" rx="3.2" ry="2.1" fill="#5e4230" opacity="0.7"/>
<ellipse cx="637.0" cy="98.2" rx="2.1" ry="1.4" fill="#5e4230" opacity="0.7"/>
<ellipse cx="641.3" cy="100.5" rx="2.4" ry="1.6" fill="#5e4230" opacity="0.7"/>
</g>
<g stroke="#d6141d" stroke-width="2.5" fill="none" stroke-linecap="round" stroke-linejoin="round">
<path d="M485.5 41.5 L495.6 43.1 L492.9 49.1 L495.6 51.8"/>
<path d="M505.7 53.2 L510.4 49.8 L513.1 52.5 L516.4 45.8 L517.1 52.5"/>
<path d="M490.2 61.9 L483.5 74 L480.8 63.9 L476.1 68"/>
<path d="M494.9 68.6 L491.5 80.8 L492.9 75.4 L501.6 80.1 L503 69.3"/>
<path d="M507 61.9 L517.1 63.9 L511.7 76 L518.5 70 L523.8 65.3 L528.5 75"/>
<circle cx="498.3" cy="59.9" r="8.3" fill="#d6141d" stroke="none"/>
<circle cx="495.6" cy="57.1" r="1.75" fill="#fff" stroke="none"/><circle cx="501.3" cy="57.1" r="1.75" fill="#fff" stroke="none"/>
<path d="M493.3 62.1 Q498.5 68.5 503.7 62.1" stroke="#fff" stroke-width="1.7"/>
</g>
<g stroke="#d6141d" stroke-width="2.5" fill="none" stroke-linecap="round" stroke-linejoin="round">
<path d="M538.4 73.2 L542.4 71.8 L547.1 77.2 L549.1 67.1 L549.8 75.2"/>
<path d="M522.9 85.3 L516.8 94 L513.5 86.6 L508.7 90"/>
<path d="M526.9 92 L524.2 102.8 L525.6 97.4 L533 102.1 L535 93.4"/>
<path d="M540.4 84.6 L550.5 85.3 L545.1 96.7 L549.8 98.1"/>
<circle cx="531.2" cy="82.5" r="8.3" fill="#d6141d" stroke="none"/>
<circle cx="528.5" cy="79.7" r="1.75" fill="#fff" stroke="none"/><circle cx="534.2" cy="79.7" r="1.75" fill="#fff" stroke="none"/>
<path d="M526.2 84.7 Q531.4 91.1 536.6 84.7" stroke="#fff" stroke-width="1.7"/>
</g>
<g stroke="#d6141d" stroke-width="2.5" fill="none" stroke-linecap="round" stroke-linejoin="round">
<path d="M575.1 64.7 L585.2 65.8 L578.5 75.2 L582.5 77.2"/>
<path d="M595.3 74.5 L604 78.5 L607.4 68.5 L611.4 75.2 L615.5 67.3 L618.5 73.5 L621.5 66.3"/>
<path d="M581.2 87.3 L575.1 95.4 L570.4 86.6 L566.3 91.3"/>
<path d="M584.5 93.4 L582.5 102.8 L585.2 98 L591.2 102.1 L594 94.7"/>
<path d="M598 85.3 L608 86 L602 98 L606.7 98"/>
<circle cx="589" cy="83.2" r="8.3" fill="#d6141d" stroke="none"/>
<circle cx="586.3" cy="80.4" r="1.75" fill="#fff" stroke="none"/><circle cx="592.0" cy="80.4" r="1.75" fill="#fff" stroke="none"/>
<path d="M584.0 85.4 Q589.2 91.8 594.4 85.4" stroke="#fff" stroke-width="1.7"/>
</g>
<g stroke="#d6141d" stroke-width="2.5" fill="none" stroke-linecap="round" stroke-linejoin="round">
<path d="M615.4 45.5 L624.6 46.7 L622.1 51.6 L625.2 54.1"/>
<path d="M635.6 57.1 L640.5 54.1 L642.3 55.9 L646 50.4 L646.6 56.5"/>
<path d="M624.6 71.8 L622.1 82.2 L623.3 76.7 L631.3 81.6 L633.7 72.4"/>
<path d="M637.4 64.4 L647.8 66.3 L641.7 79.1 L647.2 79.1"/>
<circle cx="628.8" cy="63" r="8.3" fill="#d6141d" stroke="none"/>
<circle cx="626.1" cy="60.2" r="1.75" fill="#fff" stroke="none"/><circle cx="631.8" cy="60.2" r="1.75" fill="#fff" stroke="none"/>
<path d="M623.8 65.2 Q629.0 71.6 634.2 65.2" stroke="#fff" stroke-width="1.7"/>
</g>
<g transform="translate(566.8 148.7)" stroke="#0a0a0a" stroke-width="2.6" fill="none" stroke-linecap="round" stroke-linejoin="round">
<path d="M-10.4 -15.2 L-3.7 -14 L-6.7 -10.4 L-4.9 -8.5"/>
<path d="M9.2 -4.8 Q12.2 -3 15.9 -4.2 Q17.2 -5 16.5 -6.9"/>
<path d="M-8.6 4.3 Q-9.5 9 -11.6 9.8 Q-13.5 9 -14.1 6.8 Q-15 3 -16.5 3.2 Q-18 3.6 -19 4.9"/>
<path d="M4.3 9.8 Q7 11.6 9 10.6 Q11 9.4 13.5 10.4"/>
<ellipse cx="0" cy="0" rx="10.8" ry="11.200000000000001" fill="#0a0a0a" stroke="none"/>
<circle cx="-3.5" cy="-4.5" r="2.0" fill="#fff" stroke="none"/><circle cx="3.7" cy="-4.5" r="2.0" fill="#fff" stroke="none"/>
<path d="M-5.3 6.6 Q-0.3 -0.2 5.4 6.6" stroke="#fff" stroke-width="1.9"/>
</g>
<path d="M451.8 178.2 L465.0 164.39999999999998 L671.9000000000001 164.39999999999998 L658.7 178.2 Z" fill="#e0a672" filter="url(#grainH)"/>
<rect x="451.8" y="178.2" width="206.9" height="42.3" fill="#e2a86b" filter="url(#grainH)"/>
<path d="M658.7 178.2 L671.9000000000001 164.39999999999998 L671.9000000000001 206.7 L658.7 220.5 Z" fill="#cb8d4e" filter="url(#grainV)"/>
<path d="M451.8 178.2 L465.0 164.39999999999998 L671.9000000000001 164.39999999999998 L658.7 178.2 Z" fill="none" stroke="#5f3a1e" stroke-width="0.9" stroke-linejoin="round"/>
<rect x="451.8" y="178.2" width="206.9" height="42.3" fill="none" stroke="#5f3a1e" stroke-width="0.9"/>
<path d="M658.7 178.2 L671.9000000000001 164.39999999999998 L671.9000000000001 206.7 L658.7 220.5 Z" fill="none" stroke="#5f3a1e" stroke-width="0.9" stroke-linejoin="round"/>
<use href="#d2" transform="translate(382.8 10.1)"/>
<text x="562.8" y="235.6" text-anchor="middle" class="t">Wood with biodeterioration-resistant properties</text>
<g transform="translate(567.9 296.3)" stroke="#0a0a0a" stroke-width="2.6" fill="none" stroke-linecap="round" stroke-linejoin="round">
<path d="M-10.4 -15.2 L-3.7 -14 L-6.7 -10.4 L-4.9 -8.5"/>
<path d="M9.2 -4.8 Q12.2 -3 15.9 -4.2 Q17.2 -5 16.5 -6.9"/>
<path d="M-8.6 4.3 Q-9.5 9 -11.6 9.8 Q-13.5 9 -14.1 6.8 Q-15 3 -16.5 3.2 Q-18 3.6 -19 4.9"/>
<path d="M4.3 9.8 Q7 11.6 9 10.6 Q11 9.4 13.5 10.4"/>
<ellipse cx="0" cy="0" rx="10.8" ry="11.200000000000001" fill="#0a0a0a" stroke="none"/>
<circle cx="-3.5" cy="-4.5" r="2.0" fill="#fff" stroke="none"/><circle cx="3.7" cy="-4.5" r="2.0" fill="#fff" stroke="none"/>
<path d="M-5.3 6.6 Q-0.3 -0.2 5.4 6.6" stroke="#fff" stroke-width="1.9"/>
</g>
<path d="M448.7 327.3 L462.3 312.6 L669.4 312.6 L655.8 327.3 Z" fill="#fbf2df"/>
<rect x="448.7" y="327.3" width="207.1" height="5.8" fill="#f7ecd6"/>
<rect x="448.7" y="333.1" width="207.1" height="41.9" fill="#e2a86b" filter="url(#grainH)"/>
<path d="M655.8 333.1 L669.4 318.40000000000003 L669.4 360.3 L655.8 375 Z" fill="#cb8d4e" filter="url(#grainV)"/>
<path d="M655.8 327.3 L669.4 312.6 L669.4 318.40000000000003 L655.8 333.1 Z" fill="#ead6b2"/>
<path d="M448.7 327.3 L462.3 312.6 L669.4 312.6 L655.8 327.3 Z" fill="none" stroke="#77706a" stroke-width="0.9" stroke-linejoin="round"/>
<path d="M448.7 327.3 V333.1" fill="none" stroke="#77706a" stroke-width="0.9"/>
<path d="M448.7 333.1 V375 H655.8 V333.1" fill="none" stroke="#5f3a1e" stroke-width="0.9"/>
<path d="M448.7 333.1 H655.8" fill="none" stroke="#7b5a3c" stroke-width="0.8"/>
<path d="M655.8 333.1 L669.4 318.40000000000003 L669.4 360.3 L655.8 375 Z" fill="none" stroke="#5f3a1e" stroke-width="0.9" stroke-linejoin="round"/>
<path d="M655.8 327.3 L669.4 312.6 L669.4 318.40000000000003 L655.8 333.1 Z" fill="none" stroke="#77706a" stroke-width="0.8" stroke-linejoin="round"/>
<use href="#d3" transform="translate(385.9 2.8)"/>
<text x="558.4" y="392.6" text-anchor="middle" class="t">Wood with biocidal surface properties</text>
</svg></body></html>
